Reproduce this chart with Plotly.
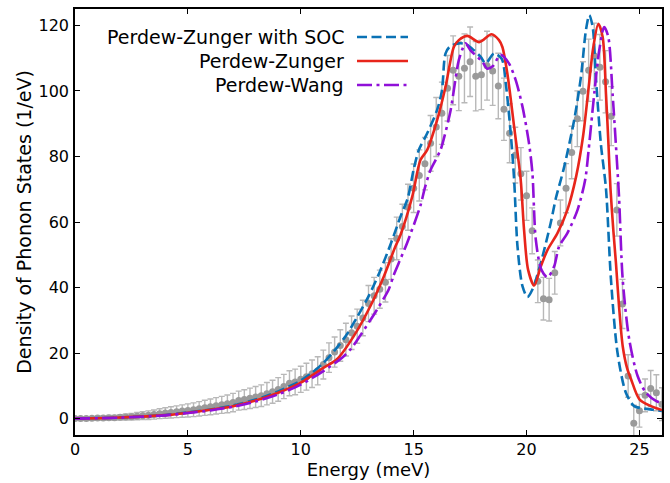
import plotly.graph_objects as go

# ---------------- data ----------------
exp_energy = [i * 0.25 for i in range(105)]
exp_dos = [0.0, 0.0, 0.05, 0.1, 0.15, 0.2, 0.25, 0.3,
           0.4, 0.5, 0.6, 0.75, 0.9, 1.05, 1.25, 1.5,
           1.7, 1.9, 2.1, 2.3, 2.5, 2.7, 3.0, 3.3,
           3.6, 3.9, 4.2, 4.5, 4.9, 5.5, 5.8, 6.2,
           6.6, 7.0, 7.6, 8.2, 8.9, 9.8, 10.8, 11.2,
           12.0, 12.8, 13.7, 14.6, 16.5, 18.6, 20.3, 22.3,
           24.1, 26.2, 28.2, 30.7, 35.1, 37.5, 39.5, 41.6,
           48.7, 55.0, 58.6, 64.5, 70.3, 74.2, 77.8, 84.0,
           89.0, 93.2, 100.8, 106.3, 104.5, 106.9, 108.9, 104.5,
           104.9, 107.7, 106.1, 101.5, 94.4, 87.1, 80.4, 74.7,
           68.0, 57.3, 41.9, 36.6, 36.3, 44.5, 59.7, 70.3,
           81.2, 91.5, 99.9, 106.3, 110.7, 107.2, 102.8, 92.3,
           63.7, 35.0, 13.0, -1.4, 2.4, 7.1, 9.2, 7.9,
           4.4]
exp_err = [0.4, 0.4, 0.5, 0.5, 0.6, 0.6, 0.7, 0.7,
           0.8, 0.9, 1.0, 1.1, 1.2, 1.3, 1.4, 1.5,
           1.6, 1.7, 1.8, 1.9, 2.0, 2.1, 2.2, 2.3,
           2.4, 2.5, 2.6, 2.7, 2.8, 2.9, 3.0, 3.1,
           3.2, 3.3, 3.4, 3.5, 3.6, 3.7, 3.8, 3.9,
           4.0, 4.1, 4.2, 4.3, 4.4, 4.5, 4.6, 4.8,
           5.0, 5.1, 5.2, 5.4, 5.5, 5.6, 5.8, 6.0,
           6.2, 6.5, 6.8, 7.0, 7.4, 7.8, 8.0, 8.5,
           9.0, 9.5, 10.0, 10.5, 10.5, 10.5, 10.6, 10.6,
           10.6, 10.5, 10.5, 10.0, 9.5, 9.0, 8.5, 8.0,
           7.5, 7.0, 6.5, 6.5, 6.5, 6.5, 7.0, 7.5,
           8.0, 8.5, 9.0, 9.5, 10.0, 10.0, 9.5, 9.0,
           8.0, 7.5, 6.5, 5.5, 5.0, 5.0, 5.5, 5.5,
           5.0]

pz_soc_energy = [0, 2, 4, 5, 6, 7, 8, 9, 10, 10.5, 11, 11.5, 12, 12.5, 13, 13.5,
                 14, 14.42, 14.74, 15.0, 15.23, 15.6, 16.04, 16.25, 16.41, 16.6,
                 17.0, 17.3, 17.67, 17.97, 18.19, 18.56, 18.9, 19.08, 19.3, 19.45,
                 19.6, 19.82, 20.04, 20.26, 20.63, 21.07, 21.3, 21.52, 21.67, 22.11,
                 22.41, 22.63, 22.78, 22.93, 23.07, 23.29, 23.52, 23.74, 24.03, 24.4,
                 24.77, 25.2, 25.6, 26.0]
pz_soc_dos = [0, 0.35, 1.1, 1.9, 2.8, 4.0, 5.8, 8.3, 11.6, 14.0, 17.0, 20.8, 25.3, 31.0, 37.3, 44.8,
              53.6, 61.7, 67.3, 76.0, 82.0, 87.1, 94.2, 100.0, 111.4, 113.5,
              114.5, 114.3, 112.4, 110.4, 108.4, 111.4, 109.8, 102.3, 87.0, 73.0,
              52.5, 40.4, 37.1, 39.4, 47.5, 59.7, 67.3, 72.9, 76.9, 91.1,
              104.3, 118.5, 123.1, 119.5, 104.3, 84.0, 70.0, 42.4, 20.1, 7.9,
              3.8, 3.1, 2.7, 2.3]

pz_energy = [0, 2, 4, 5, 6, 7, 8, 9, 10, 10.5, 11, 11.6, 12.34, 13.08, 13.68, 14.19,
             14.42, 14.94, 15.3, 15.6, 16.04, 16.41, 16.78, 17.0, 17.38, 17.9, 18.45,
             18.78, 18.93, 19.15, 19.45, 19.74, 19.89, 20.07, 20.34, 20.63, 20.93,
             21.37, 21.81, 22.2, 22.5, 22.75, 22.95, 23.18, 23.37, 23.52, 23.62,
             23.72, 23.85, 23.96, 24.1, 24.26, 24.45, 24.63, 25.0, 25.51, 26.0]
pz_dos = [0, 0.35, 1.05, 1.8, 2.7, 3.8, 5.5, 7.9, 11.0, 13.2, 15.5, 18.1, 25.1, 34.3, 43.4, 52.5,
          56.1, 67.8, 78.9, 82.0, 91.1, 101.2, 113.4, 115.5, 116.8, 114.9, 117.3,
          115.5, 113.4, 105.3, 89.1, 73.0, 57.6, 45.4, 40.6, 46.4, 51.5,
          56.6, 63.7, 74.0, 86.0, 101.0, 113.0, 120.5, 116.5, 99.0, 85.0,
          70.0, 57.0, 47.5, 34.0, 22.1, 15.5, 12.0, 5.9, 3.8, 2.6]

pw_energy = [0, 2, 4, 5, 6, 7, 8, 9, 10, 11, 11.83, 12.2, 12.64, 13.38, 13.9, 14.1,
             14.34, 14.71, 15.3, 15.5, 15.75, 15.97, 16.19, 16.34, 16.64, 17.0, 17.23,
             17.3, 17.52, 18.04, 18.26, 18.5, 18.85, 19.22, 19.52, 19.82, 20.11,
             20.26, 20.41, 20.66, 20.93, 21.22, 21.44, 21.81, 22.26, 22.6, 22.75,
             23.0, 23.22, 23.44, 23.62, 23.81, 24.0, 24.1, 24.26, 24.55, 24.92,
             25.29, 25.73, 26.0]
pw_dos = [0, 0.3, 1.0, 1.7, 2.5, 3.6, 5.2, 7.4, 10.4, 14.5, 18.6, 21.1, 25.4, 33.3, 39.5, 43.5,
          47.5, 53.6, 65.0, 70.5, 75.9, 78.9, 82.0, 85.5, 94.2, 109.4, 113.9,
          114.5, 112.4, 108.9, 106.8, 107.5, 111.0, 108.4, 103.3, 95.2, 84.0,
          74.9, 54.6, 45.4, 43.1, 46.4, 52.5, 56.6, 63.7, 73.0, 82.0,
          99.2, 112.4, 119.5, 116.5, 99.2, 78.9, 67.3, 42.4, 24.1, 13.0,
          7.9, 5.4, 4.7]

legend_labels = ["Perdew-Zunger with SOC", "Perdew-Zunger", "Perdew-Wang"]
x_ticks = [0, 5, 10, 15, 20, 25]
y_ticks = [0, 20, 40, 60, 80, 100, 120]

# ---------------- style ----------------
FONT = "DejaVu Sans"
C_SOC = "#0a72b5"
C_PZ = "#e8251b"
C_PW = "#9010d8"
DASH_SOC = "10px,4.5px"
DASH_PW = "15px,4.5px,3px,4.5px"
LW = 2.6

fig = go.Figure()

fig.add_trace(go.Scatter(
    x=exp_energy, y=exp_dos, mode="markers",
    marker=dict(color="#9a9a9a", size=7),
    error_y=dict(type="data", array=exp_err, visible=True,
                 color="#b8b8b8", thickness=1.4, width=3),
    showlegend=False))

fig.add_trace(go.Scatter(x=pz_soc_energy, y=pz_soc_dos, mode="lines",
                         line=dict(color=C_SOC, width=LW, dash=DASH_SOC, shape="spline", smoothing=0.8),
                         showlegend=False))
fig.add_trace(go.Scatter(x=pz_energy, y=pz_dos, mode="lines",
                         line=dict(color=C_PZ, width=LW, shape="spline", smoothing=0.8),
                         showlegend=False))
fig.add_trace(go.Scatter(x=pw_energy, y=pw_dos, mode="lines",
                         line=dict(color=C_PW, width=LW, dash=DASH_PW, shape="spline", smoothing=0.8),
                         showlegend=False))

# manual legend (text first, then line sample, as in the reference)
L, R, T, B = 75, 8, 9, 48
W, H = 670, 483
pw_ = W - L - R
ph_ = H - T - B


def px_to_paper(px, py):
    return (px - L) / pw_, 1 - (py - T) / ph_


legend_rows = [(legend_labels[0], C_SOC, DASH_SOC, 37),
               (legend_labels[1], C_PZ, "solid", 61),
               (legend_labels[2], C_PW, DASH_PW, 85)]
for text, col, dash, py in legend_rows:
    tx, ty = px_to_paper(346, py)
    fig.add_annotation(x=tx, y=ty, xref="paper", yref="paper", text=text,
                       showarrow=False, xanchor="right", yanchor="middle",
                       font=dict(family=FONT, size=19, color="black"))
    x0, y0 = px_to_paper(357, py)
    x1, _ = px_to_paper(408, py)
    fig.add_shape(type="line", xref="paper", yref="paper", x0=x0, x1=x1, y0=y0, y1=y0,
                  line=dict(color=col, width=LW, dash=dash))

axis_common = dict(showgrid=False, zeroline=False, showline=True, linecolor="black",
                   linewidth=1.5, mirror="allticks", ticks="inside", ticklen=5,
                   tickwidth=1.2, tickcolor="black", automargin=False,
                   tickfont=dict(family=FONT, size=16, color="black"))

fig.update_xaxes(range=[0, 26], tickvals=x_ticks, **axis_common, ticklabelstandoff=-1,
                 title=dict(text="Energy (meV)", font=dict(family=FONT, size=18, color="black"),
                            standoff=3))
fig.update_yaxes(range=[-5, 125], tickvals=y_ticks, **axis_common, ticklabelstandoff=1,
                 title=dict(text="Density of Phonon States (1/eV)",
                            font=dict(family=FONT, size=19, color="black"), standoff=2))

fig.update_layout(width=W, height=H, margin=dict(l=L, r=R, t=T, b=B),
                  plot_bgcolor="white", paper_bgcolor="white",
                  font=dict(family=FONT))

fig.write_html("out.html")
